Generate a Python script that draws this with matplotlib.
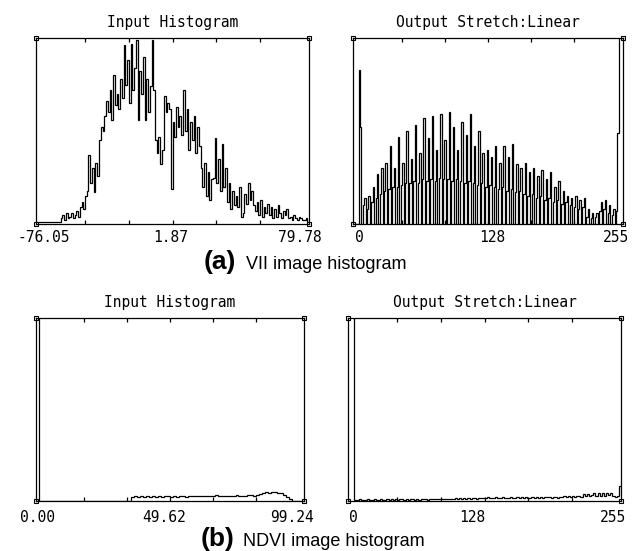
import numpy as np
import matplotlib.pyplot as plt

# (a) VII image: input histogram, heights in % of the plot box
vii_range = (-76.05, 79.78)
vii_input = [
    1, 1, 1, 1, 1, 1, 1, 1, 1, 1, 1, 1, 1, 1,
    3, 5, 2, 6, 3, 4, 6, 3, 5, 7, 4,
    9, 12, 8, 15, 18, 37, 22, 30, 17, 33, 26,
    45, 52, 50, 58, 66, 60, 72, 56, 80, 64,
    70, 62, 78, 68, 96, 75, 88, 65, 97, 72, 84,
    99, 56, 82, 70, 90, 56, 78, 60, 74, 99,
    72, 45, 38, 47, 32, 40, 69, 60, 65, 62, 19,
    55, 47, 63, 52, 58, 48, 72,
    50, 62, 40, 55, 45, 58, 38, 52, 42,
    30, 20, 33, 15, 28, 13, 24, 25, 46,
    22, 35, 18, 43, 20, 30,
    12, 22, 8, 18, 10, 15, 9, 20, 4, 6,
    16, 11, 22, 13, 18, 10,
    7, 12, 5, 13, 4, 9, 6, 11,
    5, 9, 3, 8, 4, 10, 6, 3, 7, 5, 8,
    3, 4, 2, 5, 3, 2, 4, 3, 2, 2, 3, 1,
]
vii_input_labels = ["-76.05", "1.87", "79.78"]

# (a) VII image: output after linear stretch to 0-255
out_range = (0, 255)
vii_output = [
    0, 0, 0, 0, 83, 52, 0, 10, 14, 0, 8, 15, 0, 12, 20, 0, 14, 27,
    0, 16, 30, 0, 18, 33, 0, 19, 42, 0, 20, 30, 0, 20, 47, 0, 21, 33,
    0, 22, 50, 0, 22, 35, 0, 23, 53, 0, 22, 38, 0, 24, 57, 0, 23, 46,
    0, 24, 58, 0, 23, 40, 0, 25, 59, 0, 24, 45, 0, 24, 60, 0, 23, 52,
    0, 24, 40, 0, 23, 55, 0, 22, 48, 0, 23, 59, 0, 22, 42, 0, 21, 50,
    0, 22, 38, 0, 20, 40, 0, 21, 36, 0, 20, 42, 0, 19, 33, 0, 20, 42,
    0, 18, 36, 0, 19, 43, 0, 17, 32, 0, 18, 30, 0, 16, 33, 0, 15, 28,
    0, 16, 30, 0, 14, 26, 0, 15, 29, 0, 13, 24, 0, 14, 28, 0, 12, 20,
    0, 13, 23, 0, 11, 18, 0, 12, 15, 0, 10, 14, 0, 9, 15, 0, 8, 13,
    0, 9, 14, 0, 4, 8, 0, 3, 6, 0, 4, 6, 0, 7, 12, 0, 8, 13,
    0, 6, 10, 0, 5, 8, 0, 7, 49, 150, 150, 150,
]
out_labels = ["0", "128", "255"]

# (b) NDVI image: input histogram
ndvi_range = (0.0, 99.24)
ndvi_input = (
    [300] + [0] * 31
    + [2, 2.5, 2, 2.5, 2, 2.5, 2, 2.5, 2, 2.5, 2, 2.5, 2.5, 2, 2.5, 2,
       2.5, 2.5, 2, 2.5, 2.5]
    + [3, 2.5, 3, 3, 2.5, 3, 3, 3.5, 3, 3, 3, 2.5, 3, 3, 3.5, 3, 3, 3,
       3.5, 3.5, 3, 3.5]
    + [4, 4.5, 5, 4.5, 5, 5, 4.5, 4.5, 3.5, 2, 1, 0, 0, 0, 0]
)
ndvi_input_labels = ["0.00", "49.62", "99.24"]

# (b) NDVI image: output after linear stretch
ndvi_output = [
    300, 300, 300,
    0.8, 0.6, 0.9, 0.7, 0.8, 0.6, 0.9, 0.8, 0.7, 0.9,
    0.6, 0.8, 0.9, 0.7, 0.8, 1.0, 0.7, 0.9, 0.8, 1.0,
    0.7, 0.9, 1.0, 0.8, 0.9, 0.7, 1.0, 0.9, 0.8, 1.1,
    0.8, 1.0, 0.9, 1.1, 0.8, 1.0, 1.1, 0.9, 1.0, 1.2,
    0.9, 1.1, 1.0, 1.2, 0.9, 1.1,
    1.2, 1.4, 1.0, 1.5, 1.2, 1.4, 1.3, 1.6, 1.2, 1.5, 1.4, 1.3, 1.6, 1.4,
    1.8, 1.5, 2.0, 1.6, 1.9, 1.7, 2.0, 1.5, 1.8, 2.0, 1.6, 1.9, 1.8, 2.1,
    1.7, 1.9, 2.0, 1.6, 2.0, 1.8, 2.1, 1.7, 1.9, 2.2, 1.8, 2.0, 1.9, 2.2,
    1.7, 2.1, 2.0, 2.3, 1.9, 2.1, 2.2, 1.8, 2.3, 2.1,
    2.5, 2.2, 2.8, 2.3, 2.7, 2.4, 2.9,
    3.0, 2.4, 3.6, 2.6, 4.0, 2.8, 3.4, 4.5, 2.7, 4.2, 3.0, 4.6, 2.8, 4.4,
    3.2, 4.5, 3.0, 2.0, 2.6, 8.0,
]

titles = ["Input Histogram", "Output Stretch:Linear"]
captions = [("(a)", "VII image histogram"), ("(b)", "NDVI image histogram")]

W, H = 644, 551
fig = plt.figure(figsize=(W / 100, H / 100), dpi=100)
ax_font = {"family": "DejaVu Sans Mono", "size": 10.5}


def px_axes(x0, x1, ytop, ybot):
    return fig.add_axes([x0 / W, (H - ybot) / H, (x1 - x0) / W, (ybot - ytop) / H])


panels = [
    (px_axes(36, 309, 38, 224), vii_range, vii_input, vii_input_labels,
     [0.03, 0.495, 0.967], titles[0], 0.9),
    (px_axes(353, 623, 38, 224), out_range, vii_output, out_labels,
     [0.022, 0.515, 0.975], titles[1], 0.9),
    (px_axes(36, 304, 318, 501), ndvi_range, ndvi_input, ndvi_input_labels,
     [0.005, 0.478, 0.955], titles[0], 0.9),
    (px_axes(348, 621, 318, 501), out_range, ndvi_output, out_labels,
     [0.02, 0.455, 0.97], titles[1], 0.9),
]

tick_frac = np.array([0.18, 0.34, 0.5, 0.66, 0.82])

for i, (ax, (lo, hi), vals, labels, lab_pos, title, lw) in enumerate(panels):
    edges = np.linspace(lo, hi, len(vals) + 1)
    ax.stairs(vals, edges, color="black", lw=lw, baseline=None)
    ax.set_xlim(lo, hi)
    ax.set_ylim(0, 100)
    ax.set_yticks([])
    ax.set_xticks(lo + tick_frac * (hi - lo))
    ax.tick_params(axis="x", direction="in", length=3, width=0.9,
                   top=True, bottom=True, labelbottom=False)
    for sp in ax.spines.values():
        sp.set_linewidth(0.9)
    # little corner boxes drawn by the original plotting tool
    ax.plot([0, 1, 0, 1], [0, 0, 1, 1], "s", transform=ax.transAxes,
            ms=3.2, mfc="white", mec="black", mew=0.8, clip_on=False)
    ax.set_title(title, pad=8, fontdict=ax_font)
    dy = -0.03 if i < 2 else -0.05
    for fx, lab in zip(lab_pos, labels):
        ax.text(fx, dy, lab, transform=ax.transAxes, ha="center", va="top",
                fontdict=ax_font)

cap_y = [269, 546]
for (tag, text), yb in zip(captions, cap_y):
    x_tag = 204 if tag == "(a)" else 201
    fig.text(x_tag / W, (H - yb) / H, tag, family="Liberation Sans",
             weight="bold", size=19, va="baseline")
    fig.text((x_tag + 42) / W, (H - yb) / H, text, family="Liberation Sans",
             size=13, va="baseline")

fig.savefig("out.png", dpi=100)
